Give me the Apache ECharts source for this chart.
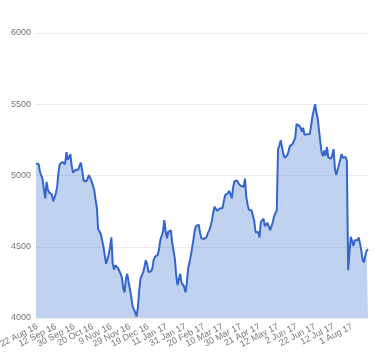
<!DOCTYPE html>
<html>
<head>
<meta charset="utf-8">
<script src="https://cdn.jsdelivr.net/npm/echarts@6/dist/echarts.min.js"></script>
<style>
html,body{margin:0;padding:0;background:#fff;}
#chart{width:380px;height:360px;}
</style>
</head>
<body>
<div id="chart"></div>
<script>
var tickLabels = ['22 Aug 16','12 Sep 16','30 Sep 16','20 Oct 16','9 Nov 16','29 Nov 16','19 Dec 16','11 Jan 17','31 Jan 17','20 Feb 17','10 Mar 17','30 Mar 17','21 Apr 17','12 May 17','2 Jun 17','22 Jun 17','12 Jul 17','1 Aug 17'];
var firstLabelIndex = 1;
var labelStep = 14;
var values = [
5085,5088,5080,5026,5012,4975,4900,4840,4955,4900,
4880,4888,4868,4818,4845,4875,4920,5025,5080,5078,
5095,5100,5080,5165,5110,5100,5150,5065,5020,5030,
5040,5035,5040,5070,5090,5030,4965,4958,4958,4980,
5003,5008,4960,4968,4900,4830,4775,4625,4617,4590,
4545,4500,4438,4380,4370,4445,4500,4565,4380,4340,
4370,4358,4350,4330,4310,4280,4207,4180,4275,4310,
4253,4265,4150,4085,4060,4040,4010,4070,4190,4277,
4270,4320,4360,4405,4380,4323,4333,4328,4350,4410,
4430,4440,4441,4480,4548,4557,4605,4687,4610,4560,
4605,4610,4615,4528,4530,4415,4300,4230,4240,4310,
4248,4260,4220,4180,4245,4345,4390,4435,4490,4550,
4615,4645,4650,4655,4600,4560,4570,4555,4550,4568,
4598,4615,4645,4685,4740,4780,4775,4752,4748,4768,
4760,4772,4820,4862,4853,4875,4892,4870,4840,4915,
4960,4950,4965,4945,4936,4926,4917,4920,4978,4850,
4795,4760,4746,4755,4748,4680,4602,4594,4603,4565,
4675,4688,4697,4645,4655,4668,4660,4617,4607,4670,
4715,4725,4755,5185,5210,5248,5255,5150,5125,5126,
5142,5172,5208,5222,5220,5225,5268,5360,5358,5350,
5335,5308,5335,5285,5295,5290,5285,5292,5350,5415,
5405,5500,5440,5400,5315,5230,5160,5135,5175,5140,
5200,5125,5120,5118,5145,5185,5045,5005,5040,5073,
5085,5150,5125,5118,5130,5105,4335,4460,4570,4560,
4505,4545,4555,4545,4565,4520,4470,4405,4390,4442,
4472,4483
];
var yMin = 4000, yMax = 6000, yStep = 500;

var categories = values.map(function (v, i) {
  var k = (i - firstLabelIndex) / labelStep;
  return (k >= 0 && k === Math.floor(k) && tickLabels[k]) ? tickLabels[k] : '';
});

var chart = echarts.init(document.getElementById('chart'), null, {renderer: 'canvas'});
chart.setOption({
  animation: false,
  grid: {left: 36, right: 12, top: 33, bottom: 42, containLabel: false, outerBoundsMode: 'none'},
  xAxis: {
    type: 'category',
    data: categories,
    boundaryGap: false,
    axisLine: {show: false},
    axisTick: {show: false},
    splitLine: {show: false},
    axisLabel: {
      interval: 0,
      hideOverlap: false,
      rotate: 27,
      margin: 8,
      color: '#777777',
      fontSize: 9,
      fontFamily: 'Arial'
    }
  },
  yAxis: {
    type: 'value',
    min: yMin,
    max: yMax,
    interval: yStep,
    axisLine: {show: false},
    axisTick: {show: false},
    splitLine: {lineStyle: {color: '#ebebeb', width: 1}},
    axisLabel: {
      color: '#777777', fontSize: 9, margin: 5, fontFamily: 'Arial',
      showMinLabel: true,
      formatter: function (v) { return String(v); }
    }
  },
  series: [{
    type: 'line',
    data: values,
    showSymbol: false,
    symbol: 'none',
    lineStyle: {color: '#3366cc', width: 2},
    areaStyle: {color: '#3366cc', opacity: 0.3},
    z: 3
  }]
});
</script>
</body>
</html>
